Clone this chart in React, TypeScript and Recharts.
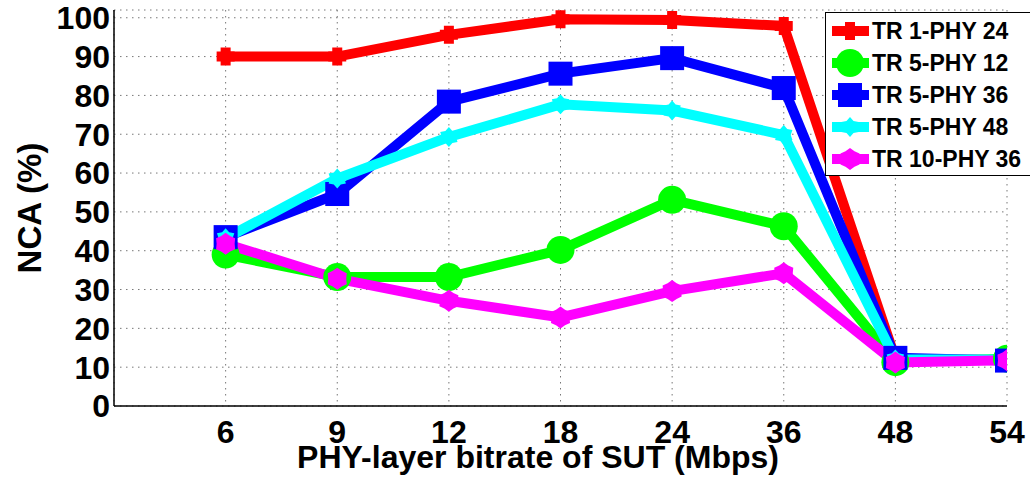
import React from "react"
import { CartesianGrid, Line, LineChart, XAxis, YAxis } from "recharts"

const xLabels = ["6", "9", "12", "18", "24", "36", "48", "54"]
const xPos = [1, 2, 3, 4, 5, 6, 7, 8]
const yTicks = [0, 10, 20, 30, 40, 50, 60, 70, 80, 90, 100]

const tr1phy24 = [90, 90, 95.6, 99.6, 99.4, 97.9, 12.2, 11.8]
const tr5phy12 = [39, 33.2, 33.2, 40.2, 53.1, 46.3, 11.3, 12.2]
const tr5phy36 = [43.5, 54.6, 78.4, 85.6, 89.6, 81.9, 12.4, 11.7]
const tr5phy48 = [43.2, 58.6, 69.3, 77.7, 76.1, 69.8, 12, 12]
const tr10phy36 = [41.8, 32.8, 27.1, 22.8, 29.6, 34.2, 11.2, 11.8]

type Shape = "plus" | "circle" | "square" | "star6" | "hex"

interface Series {
  key: string
  name: string
  color: string
  shape: Shape
  values: number[]
}

const series: Series[] = [
  { key: "r", name: "TR 1-PHY 24", color: "#ff0000", shape: "plus", values: tr1phy24 },
  { key: "g", name: "TR 5-PHY 12", color: "#00ff00", shape: "circle", values: tr5phy12 },
  { key: "b", name: "TR 5-PHY 36", color: "#0000ff", shape: "square", values: tr5phy36 },
  { key: "c", name: "TR 5-PHY 48", color: "#00ffff", shape: "star6", values: tr5phy48 },
  { key: "m", name: "TR 10-PHY 36", color: "#ff00ff", shape: "hex", values: tr10phy36 },
]

const data = xPos.map((x, i) => {
  const row: Record<string, number> = { x }
  series.forEach((s) => (row[s.key] = s.values[i]))
  return row
})

const font = "'Liberation Sans', Arial, sans-serif"

const starPath = (cx: number, cy: number, n: number, ro: number, ri: number) => {
  const pts: string[] = []
  for (let i = 0; i < n * 2; i++) {
    const r = i % 2 === 0 ? ro : ri
    const a = (Math.PI * i) / n - Math.PI / 2
    pts.push(`${cx + r * Math.cos(a)},${cy + r * Math.sin(a)}`)
  }
  return "M" + pts.join("L") + "Z"
}

const Marker = ({ shape, color, cx, cy }: { shape: Shape; color: string; cx: number; cy: number }) => {
  if (shape === "plus") {
    const a = 9, t = 5
    return (
      <path
        d={`M${cx - t},${cy - a}H${cx + t}V${cy - t}H${cx + a}V${cy + t}H${cx + t}V${cy + a}H${cx - t}V${cy + t}H${cx - a}V${cy - t}H${cx - t}Z`}
        fill={color}
      />
    )
  }
  if (shape === "circle") return <circle cx={cx} cy={cy} r={14} fill={color} />
  if (shape === "square") return <rect x={cx - 12} y={cy - 12} width={24} height={24} fill={color} />
  if (shape === "star6") return <path d={starPath(cx, cy, 6, 10, 7)} fill={color} />
  return <path d={starPath(cx, cy, 6, 11, 9)} fill={color} />
}

const makeDot = (s: Series) => (p: any) => (
  <g key={`${s.key}-${p.index}`}>
    <Marker shape={s.shape} color={s.color} cx={p.cx} cy={p.cy} />
  </g>
)

const tickStyle = { fill: "#000", fontSize: 32, fontWeight: "bold", fontFamily: font }

const Legendbox = () => (
  <svg width={210} height={164} style={{ position: "absolute", left: 825, top: 12 }}>
    <rect x={0.5} y={0.5} width={209} height={163} fill="#fff" stroke="#000" strokeWidth={1} />
    {series.map((s, i) => {
      const y = 19 + 32 * i
      return (
        <g key={s.key}>
          <line x1={7} x2={44} y1={y} y2={y} stroke={s.color} strokeWidth={10} />
          <Marker shape={s.shape} color={s.color} cx={25} cy={y} />
          <text x={47} y={y} dominantBaseline="central" fontSize={23} fontWeight="bold" fontFamily={font} fill="#000">
            {s.name}
          </text>
        </g>
      )
    })}
  </svg>
)

export default function App() {
  return (
    <div style={{ position: "absolute", left: 0, top: 0, width: 1030, height: 484, overflow: "hidden", background: "#fff" }}>
      <LineChart width={1030} height={484} data={data} margin={{ top: 10, right: 23, bottom: 0, left: 0 }}>
        <CartesianGrid stroke="#777" strokeDasharray="1.5 4.5" />
        <XAxis
          dataKey="x"
          type="number"
          domain={[0, 8]}
          ticks={xPos}
          interval={0}
          allowDataOverflow
          tickFormatter={(v: number) => xLabels[v - 1]}
          height={78}
          tickSize={0}
          tickMargin={14}
          tick={tickStyle}
          axisLine={{ stroke: "#000", strokeWidth: 1.5 }}
          label={() => (
            <text x={538} y={468} textAnchor="middle" fontSize={32} fontWeight="bold" fontFamily={font} fill="#000">
              PHY-layer bitrate of SUT (Mbps)
            </text>
          )}
        />
        <XAxis
          xAxisId="top"
          orientation="top"
          type="number"
          domain={[0, 8]}
          ticks={xPos}
          interval={0}
          allowDataOverflow
          mirror
          height={0}
          tickSize={8}
          tickFormatter={() => ""}
          axisLine={{ stroke: "#000", strokeWidth: 1.5 }}
          tickLine={{ stroke: "#000" }}
        />
        <YAxis
          domain={[0, 102]}
          ticks={yTicks}
          interval={0}
          allowDataOverflow
          width={114}
          tickSize={0}
          tickMargin={4}
          tick={tickStyle}
          axisLine={{ stroke: "#000", strokeWidth: 1.5 }}
          label={() => (
            <text x={29} y={208} transform="rotate(-90 29 208)" textAnchor="middle" dominantBaseline="central" fontSize={33} fontWeight="bold" fontFamily={font} fill="#000">
              NCA (%)
            </text>
          )}
        />
        <YAxis
          yAxisId="right"
          orientation="right"
          domain={[0, 102]}
          ticks={yTicks}
          interval={0}
          allowDataOverflow
          mirror
          width={0}
          tickSize={8}
          tickFormatter={() => ""}
          axisLine={{ stroke: "#000", strokeWidth: 1.5 }}
          tickLine={{ stroke: "#000" }}
        />
        {series.map((s) => (
          <Line
            key={s.key}
            type="linear"
            dataKey={s.key}
            name={s.name}
            stroke={s.color}
            strokeWidth={10}
            dot={makeDot(s)}
            activeDot={false}
            isAnimationActive={false}
          />
        ))}
      </LineChart>
      <Legendbox />
    </div>
  )
}
